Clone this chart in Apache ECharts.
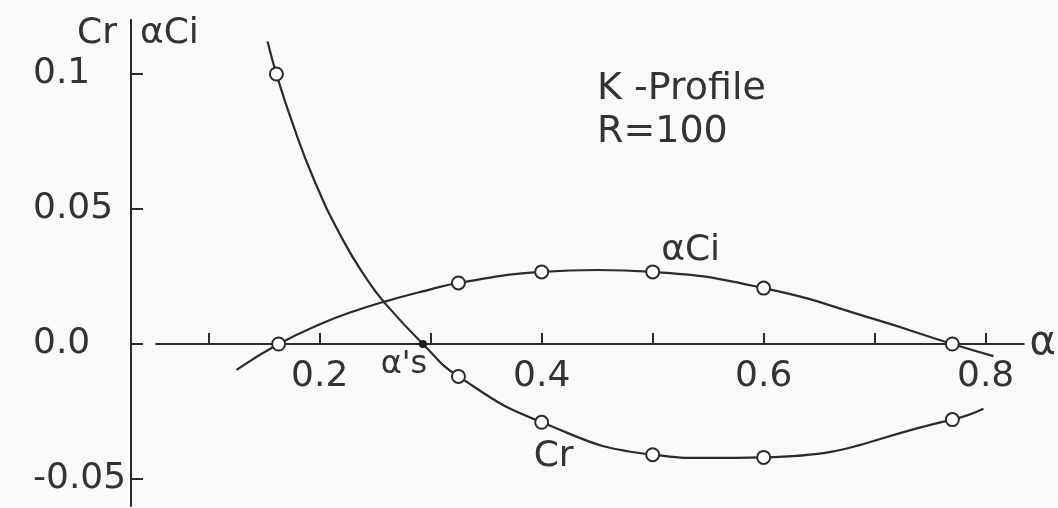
<!DOCTYPE html>
<html>
<head>
<meta charset="utf-8">
<script src="https://cdn.jsdelivr.net/npm/echarts@6/dist/echarts.min.js"></script>
<style>
  html, body { margin: 0; padding: 0; background: #faf8f9; }
  #chart { width: 1058px; height: 508px; }
</style>
</head>
<body>
<div id="chart"></div>
<script>
// Cr and alpha*Ci against alpha for the K-profile at R = 100.

// Traced curves [alpha, value]
const crCurve = [
  [0.153, 0.112], [0.161, 0.100], [0.1748, 0.0826], [0.1946, 0.0611], [0.2198, 0.0394],
  [0.2423, 0.0241], [0.2586, 0.0152], [0.293, 0.000], [0.325, -0.012], [0.400, -0.029],
  [0.500, -0.041], [0.550, -0.0422], [0.600, -0.042], [0.770, -0.028], [0.798, -0.024]
];
const ciCurve = [
  [0.125, -0.0096], [0.163, 0.000], [0.2018, 0.0076], [0.2315, 0.0122], [0.2586, 0.0157],
  [0.2919, 0.0194], [0.325, 0.0226], [0.400, 0.0267], [0.450, 0.0274], [0.500, 0.0267],
  [0.600, 0.0207], [0.699, 0.0093], [0.770, 0.000], [0.807, -0.0045]
];

// Computed points (open circles)
const crPoints = [[0.161, 0.100], [0.325, -0.012], [0.400, -0.029], [0.500, -0.041], [0.600, -0.042], [0.770, -0.028]];
const ciPoints = [[0.163, 0.000], [0.325, 0.0226], [0.400, 0.0267], [0.500, 0.0267], [0.600, 0.0207], [0.770, 0.000]];

// Neutral point alpha's where Cr changes sign
const alphaS = [[0.293, 0.000]];

// Axis ticks and labels
const xTicks = [0.1, 0.2, 0.3, 0.4, 0.5, 0.6, 0.7, 0.8];
const xTickLabels = [0.2, 0.4, 0.6, 0.8];
const yTicks = [-0.05, 0, 0.05, 0.1];
const yTickText = { '-0.05': '-0.05', '0': '0.0', '0.05': '0.05', '0.1': '0.1' };
const alphaAxisExtent = [0.052, 0.835];

const CR_LABEL_AT = 0.400;
const CI_LABEL_AT = 0.500;

const ink = '#2b2b2b';
const textInk = '#333333';
const paper = '#faf8f9';
const font = "'DejaVu Sans', sans-serif";

const chart = echarts.init(document.getElementById('chart'), null, { renderer: 'canvas' });

const circle = {
  symbol: 'circle',
  symbolSize: 13,
  itemStyle: { color: '#ffffff', borderColor: ink, borderWidth: 2, opacity: 1 }
};

const labelFont = { color: textInk, fontFamily: font, fontSize: 36, fontWeight: 'normal', opacity: 1 };

const option = {
  backgroundColor: paper,
  animation: false,
  grid: { left: 131, top: 20, width: 893.5, bottom: 2, containLabel: false, outerBoundsMode: 'none' },
  xAxis: {
    type: 'value',
    min: 0.03,
    max: 0.835,
    name: 'α',
    nameLocation: 'end',
    nameGap: 5,
    nameTextStyle: { color: textInk, fontFamily: font, fontSize: 40, fontWeight: 'normal', padding: [0, 0, 36, 0] },
    axisLine: { show: true, onZero: true, lineStyle: { color: 'transparent' } },
    axisTick: { show: true, inside: true, length: 11, customValues: xTicks, lineStyle: { color: ink, width: 2 } },
    axisLabel: { show: false },
    splitLine: { show: false }
  },
  yAxis: {
    type: 'value',
    min: -0.06,
    max: 0.12,
    axisLine: { show: true, onZero: false, lineStyle: { color: ink, width: 2 } },
    axisTick: { show: true, inside: true, length: 12, customValues: yTicks, lineStyle: { color: ink, width: 2 } },
    axisLabel: Object.assign({
      show: true, customValues: yTicks, margin: 98, align: 'left',
      formatter: v => yTickText[String(Math.round(v * 100) / 100)]
    }, labelFont),
    splitLine: { show: false }
  },
  graphic: [
    { type: 'text', left: 77, top: 16, style: { text: 'Cr', font: `normal 36px ${font}`, fill: textInk } },
    { type: 'text', left: 140, top: 16, style: { text: 'αCi', font: `normal 36px ${font}`, fill: textInk } },
    { type: 'text', left: 597, top: 68, style: { text: 'K -Profile\nR=100', font: `normal 38px ${font}`, lineHeight: 43, fill: textInk } }
  ],
  series: [
    {
      name: 'Cr',
      type: 'line',
      data: crCurve,
      showSymbol: false,
      smooth: 0.5,
      lineStyle: { color: ink, width: 2.2 },
      z: 2,
      markLine: {
        silent: true,
        symbol: ['none', 'none'],
        label: { show: false },
        lineStyle: { color: ink, width: 2.2, type: 'solid' },
        data: [[{ coord: [alphaAxisExtent[0], 0] }, { coord: [alphaAxisExtent[1], 0] }]]
      }
    },
    {
      name: 'αCi',
      type: 'line',
      data: ciCurve,
      showSymbol: false,
      smooth: 0.5,
      lineStyle: { color: ink, width: 2.2 },
      z: 2
    },
    Object.assign({
      name: 'Cr points',
      type: 'scatter',
      z: 5,
      data: crPoints.map(p => p[0] === CR_LABEL_AT ? {
        value: p,
        label: Object.assign({ show: true, formatter: 'Cr', position: 'bottom', offset: [12, 4] }, labelFont)
      } : p)
    }, circle),
    Object.assign({
      name: 'αCi points',
      type: 'scatter',
      z: 5,
      data: ciPoints.map(p => p[0] === CI_LABEL_AT ? {
        value: p,
        label: Object.assign({ show: true, formatter: 'αCi', position: 'top', offset: [38, 9] }, labelFont)
      } : p)
    }, circle),
    {
      name: "α's",
      type: 'scatter',
      z: 6,
      symbol: 'circle',
      symbolSize: 8,
      itemStyle: { color: '#1a1a1a', opacity: 1 },
      data: alphaS,
      label: {
        show: true, formatter: "α's", position: 'bottom', offset: [-19, -4],
        color: textInk, fontFamily: font, fontSize: 32, fontWeight: 'normal', opacity: 1
      }
    },
    {
      // tick labels of the alpha axis, hung below the zero line
      name: 'alpha ticks',
      type: 'scatter',
      silent: true,
      z: 1,
      symbolSize: 0,
      itemStyle: { color: 'transparent', opacity: 1 },
      data: xTickLabels.map(v => [v, 0]),
      label: Object.assign({
        show: true, position: 'bottom', distance: 15,
        formatter: p => p.value[0].toFixed(1)
      }, labelFont)
    }
  ]
};

chart.setOption(option);
</script>
</body>
</html>
